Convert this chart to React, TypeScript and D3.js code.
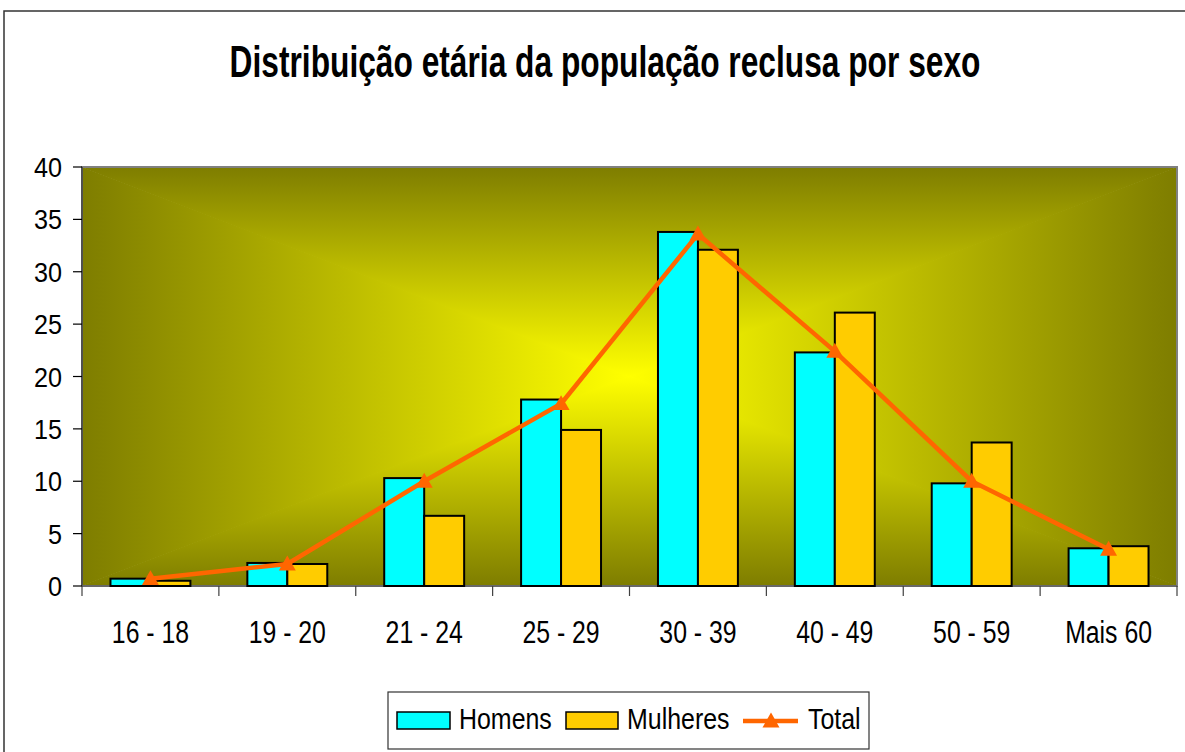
import React from "react";
import * as d3 from "d3";

const categories = ["16 - 18", "19 - 20", "21 - 24", "25 - 29", "30 - 39", "40 - 49", "50 - 59", "Mais 60"];
const homens = [0.7, 2.2, 10.3, 17.8, 33.8, 22.3, 9.8, 3.6];
const mulheres = [0.5, 2.1, 6.7, 14.9, 32.1, 26.1, 13.7, 3.8];
const total = [0.7, 2.1, 10.0, 17.4, 33.6, 22.4, 10.0, 3.5];
const yTicks = [0, 5, 10, 15, 20, 25, 30, 35, 40];
const seriesNames = ["Homens", "Mulheres", "Total"];
const title = "Distribuição etária da população reclusa por sexo";

const FONT = "'Liberation Sans', Arial, sans-serif";

function SText({ x, y, sx = 1, size, anchor = "start", weight = "normal", children }: any) {
  return (
    <text
      transform={`translate(${x},${y}) scale(${sx},1)`}
      fontSize={size}
      fontFamily={FONT}
      fontWeight={weight}
      textAnchor={anchor}
      fill="#000"
    >
      {children}
    </text>
  );
}

export default function App() {
  const W = 1185, H = 752;
  const L = 82, R = 1177, T = 167, B = 586;
  const cx = (L + R) / 2, cy = (T + B) / 2;

  const x = d3.scaleBand<string>().domain(categories).range([L, R]).padding(0);
  const y = d3.scaleLinear().domain([0, 40]).range([B, T]);
  const bw = x.bandwidth();
  const barW = bw * 0.292;

  const line = d3
    .line<number>()
    .x((_, i) => (x(categories[i]) as number) + bw / 2)
    .y((d) => y(d));

  const tri = (px: number, py: number, s = 8.5) =>
    `M${px},${py - s} L${px + s},${py + s * 0.75} L${px - s},${py + s * 0.75} Z`;

  const edge = "#7e7d00";
  const mid = "#ffff00";

  return (
    <svg width={W} height={H} style={{ position: "absolute", left: 0, top: 0 }}>
      <defs>
        <linearGradient id="gTop" gradientUnits="userSpaceOnUse" x1={0} y1={T} x2={0} y2={cy}>
          <stop offset="0" stopColor={edge} />
          <stop offset="1" stopColor={mid} />
        </linearGradient>
        <linearGradient id="gBot" gradientUnits="userSpaceOnUse" x1={0} y1={B} x2={0} y2={cy}>
          <stop offset="0" stopColor={edge} />
          <stop offset="1" stopColor={mid} />
        </linearGradient>
        <linearGradient id="gLeft" gradientUnits="userSpaceOnUse" x1={L} y1={0} x2={cx} y2={0}>
          <stop offset="0" stopColor={edge} />
          <stop offset="1" stopColor={mid} />
        </linearGradient>
        <linearGradient id="gRight" gradientUnits="userSpaceOnUse" x1={R} y1={0} x2={cx} y2={0}>
          <stop offset="0" stopColor={edge} />
          <stop offset="1" stopColor={mid} />
        </linearGradient>
        <clipPath id="plotClip">
          <rect x={L} y={T} width={R - L} height={B - T} />
        </clipPath>
      </defs>
      <rect x={0} y={0} width={W} height={H} fill="#fff" />
      <rect x={4} y={11} width={1300} height={900} fill="#fff" stroke="#333" strokeWidth={1.5} />

      <SText x={605} y={77} size={45} weight="bold" anchor="middle" sx={0.705}>
        {title}
      </SText>

      {/* plot background: rectangular "from center" gradient */}
      <g clipPath="url(#plotClip)">
        <polygon points={`${L},${T} ${L},${B} ${cx},${cy}`} fill="url(#gLeft)" />
        <polygon points={`${R},${T} ${R},${B} ${cx},${cy}`} fill="url(#gRight)" />
        <polygon points={`${L - 1.5},${T} ${R + 1.5},${T} ${cx},${cy + 1}`} fill="url(#gTop)" />
        <polygon points={`${L - 1.5},${B} ${R + 1.5},${B} ${cx},${cy - 1}`} fill="url(#gBot)" />
      </g>
      <rect x={L} y={T} width={R - L} height={B - T} fill="none" stroke="#808080" strokeWidth={2} />

      {/* y axis */}
      <line x1={L} y1={T} x2={L} y2={B} stroke="#404040" strokeWidth={1.5} />
      {yTicks.map((t) => (
        <g key={t}>
          <line x1={L - 9} x2={L} y1={y(t)} y2={y(t)} stroke="#000" strokeWidth={1.2} />
          <SText x={62} y={y(t) + 10} size={28} anchor="end" sx={0.9}>
            {t}
          </SText>
        </g>
      ))}

      {/* x axis */}
      <line x1={L} y1={B} x2={R} y2={B} stroke="#606060" strokeWidth={1.5} />
      {categories.map((c) => (
        <line key={"t" + c} x1={x(c)} x2={x(c)} y1={B} y2={B + 10} stroke="#404040" strokeWidth={1.2} />
      ))}
      <line x1={R} x2={R} y1={B} y2={B + 10} stroke="#404040" strokeWidth={1.2} />
      {categories.map((c) => (
        <SText key={"l" + c} x={(x(c) as number) + bw / 2} y={643} size={31} anchor="middle" sx={0.8}>
          {c}
        </SText>
      ))}

      {/* bars */}
      {categories.map((c, i) => {
        const cxx = (x(c) as number) + bw / 2;
        return (
          <g key={"b" + c}>
            <rect
              x={cxx - barW}
              y={y(homens[i])}
              width={barW}
              height={B - y(homens[i])}
              fill="#00ffff"
              stroke="#000"
              strokeWidth={2}
            />
            <rect
              x={cxx}
              y={y(mulheres[i])}
              width={barW}
              height={B - y(mulheres[i])}
              fill="#ffcc00"
              stroke="#000"
              strokeWidth={2}
            />
          </g>
        );
      })}

      {/* total line */}
      <path d={line(total) as string} fill="none" stroke="#ff6600" strokeWidth={4.5} strokeLinejoin="round" />
      {total.map((v, i) => (
        <path key={"m" + i} d={tri((x(categories[i]) as number) + bw / 2, y(v))} fill="#ff6600" />
      ))}

      {/* legend */}
      <rect x={388} y={692} width={481} height={57} fill="#fff" stroke="#333" strokeWidth={1.2} />
      <rect x={397} y={712} width={53} height={17} fill="#00ffff" stroke="#000" strokeWidth={1.5} />
      <SText x={459} y={729} size={29} sx={0.86}>{seriesNames[0]}</SText>
      <rect x={566} y={712} width={52} height={17} fill="#ffcc00" stroke="#000" strokeWidth={1.5} />
      <SText x={627} y={729} size={29} sx={0.86}>{seriesNames[1]}</SText>
      <line x1={743} x2={798} y1={721} y2={721} stroke="#ff6600" strokeWidth={4.5} />
      <path d={tri(771, 721)} fill="#ff6600" />
      <SText x={808} y={729} size={29} sx={0.86}>{seriesNames[2]}</SText>
    </svg>
  );
}
